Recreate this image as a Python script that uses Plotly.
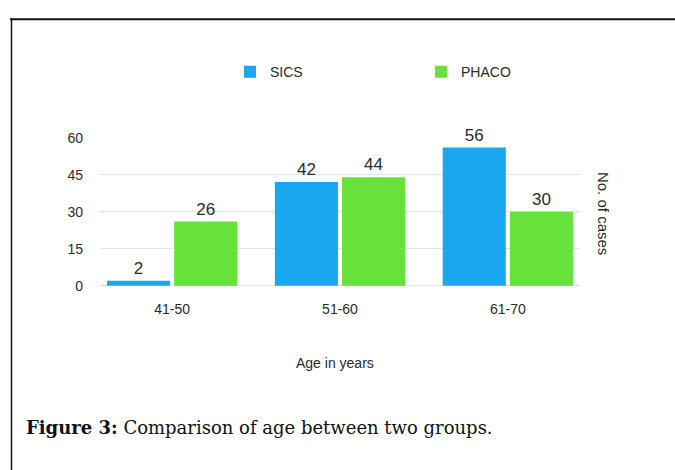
import plotly.graph_objects as go

# Age groups and case counts per surgical technique
age_groups = ["41-50", "51-60", "61-70"]
sics_cases = [2, 42, 56]
phaco_cases = [26, 44, 30]
y_ticks = [0, 15, 30, 45, 60]

W, H = 675, 470
L, R = 100, 580          # plot area left/right (px)
T, B = 132, 296          # plot area top/bottom (px)

SICS_COLOR = "#19a8f0"
PHACO_COLOR = "#67e23a"
TEXT = "#2a2a2a"
FONT = "Liberation Sans, Arial, sans-serif"

fig = go.Figure()
fig.add_trace(go.Bar(
    name="SICS", x=age_groups, y=sics_cases,
    marker=dict(color=SICS_COLOR, line=dict(width=0)),
    text=[str(v) for v in sics_cases], textposition="outside",
    textfont=dict(size=17, color=TEXT, family=FONT), cliponaxis=False,
))
fig.add_trace(go.Bar(
    name="PHACO", x=age_groups, y=phaco_cases,
    marker=dict(color=PHACO_COLOR, line=dict(width=0)),
    text=[str(v) for v in phaco_cases], textposition="outside",
    textfont=dict(size=17, color=TEXT, family=FONT), cliponaxis=False,
))

fig.update_layout(
    width=W, height=H,
    margin=dict(l=0, r=0, t=0, b=0),
    paper_bgcolor="white", plot_bgcolor="white",
    barmode="group", bargap=0.2, bargroupgap=0.06,
    font=dict(family=FONT, color=TEXT, size=14),
    showlegend=True,
    legend=dict(
        orientation="h", x=230 / W, y=1 - 49 / H,
        xanchor="left", yanchor="top",
        entrywidth=146, entrywidthmode="pixels",
        font=dict(size=14, color=TEXT, family=FONT),
        itemclick=False, itemdoubleclick=False,
        bgcolor="rgba(0,0,0,0)",
    ),
    xaxis=dict(
        domain=[L / W, R / W], range=[-0.43, 2.43],
        showgrid=False, zeroline=False, showline=False, ticks="",
        tickfont=dict(size=14, color=TEXT), ticklabelstandoff=0,
    ),
    yaxis=dict(
        domain=[1 - B / H, 1 - T / H], range=[-5.4, 60],
        tickvals=y_ticks, ticktext=[str(v) for v in y_ticks],
        showgrid=True, gridcolor="#e4e4e4", gridwidth=1,
        zeroline=False, showline=False, ticks="",
        tickfont=dict(size=14, color=TEXT), ticklabelstandoff=16,
    ),
)

# Axis titles
fig.add_annotation(
    x=335 / W, y=1 - 371 / H, xref="paper", yref="paper",
    text="Age in years", showarrow=False,
    font=dict(size=14, color=TEXT, family=FONT),
)
fig.add_annotation(
    x=614 / W, y=1 - 209 / H, xref="paper", yref="paper",
    text="No. of cases", textangle=90, showarrow=False,
    font=dict(size=15, color=TEXT, family=FONT),
)

# Caption
fig.add_annotation(
    x=24 / W, y=1 - 427 / H, xref="paper", yref="paper",
    xanchor="left", yanchor="middle",
    text="<b>Figure 3:</b> Comparison of age between two groups.",
    showarrow=False,
    font=dict(size=18, color="#111111", family="DejaVu Serif, serif"),
)

# Frame lines along the top and left edges
fig.add_shape(type="line", xref="paper", yref="paper",
              x0=10 / W, x1=1, y0=1 - 11.5 / H, y1=1 - 11.5 / H,
              line=dict(color="#111111", width=2))
fig.add_shape(type="line", xref="paper", yref="paper",
              x0=11.5 / W, x1=11.5 / W, y0=0, y1=1 - 11 / H,
              line=dict(color="#111111", width=1.5))

fig.write_html("out.html")
